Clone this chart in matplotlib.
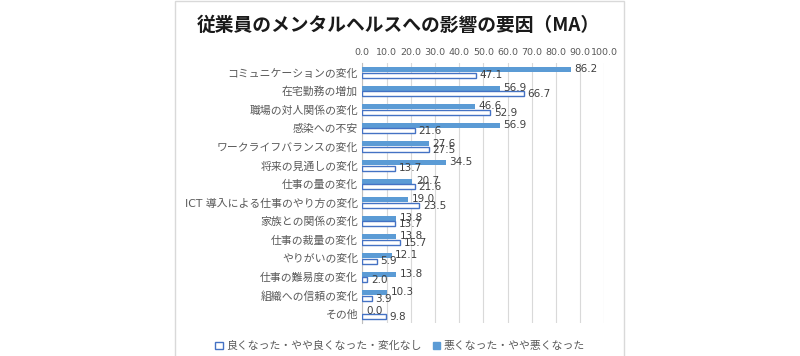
import numpy as np
import matplotlib
matplotlib.use("Agg")
import matplotlib.pyplot as plt
from matplotlib.patches import Patch, Rectangle

plt.rcParams['font.family'] = ['DejaVu Sans', 'Noto Sans CJK JP']

categories = ["コミュニケーションの変化", "在宅勤務の増加", "職場の対人関係の変化", "感染への不安",
              "ワークライフバランスの変化", "将来の見通しの変化", "仕事の量の変化",
              "ICT 導入による仕事のやり方の変化", "家族との関係の変化", "仕事の裁量の変化",
              "やりがいの変化", "仕事の難易度の変化", "組織への信頼の変化", "その他"]
worse = [86.2, 56.9, 46.6, 56.9, 27.6, 34.5, 20.7, 19.0, 13.8, 13.8, 12.1, 13.8, 10.3, 0.0]
better = [47.1, 66.7, 52.9, 21.6, 27.5, 13.7, 21.6, 23.5, 13.7, 15.7, 5.9, 2.0, 3.9, 9.8]
xticks = np.arange(0, 101, 10)

label_better = "良くなった・やや良くなった・変化なし"
label_worse = "悪くなった・やや悪くなった"

fill_col = "#5B9BD5"
edge_col = "#4472C4"
text_col = "#595959"

fig = plt.figure(figsize=(8, 3.56), dpi=100)
# chart frame
fig.patches.append(Rectangle((175 / 800, -0.05), (624 - 175) / 800, 1.05 - 1 / 356,
                             transform=fig.transFigure, fill=False,
                             edgecolor="#D9D9D9", linewidth=1))

ax = fig.add_axes([362.3 / 800, 1 - 323.3 / 356, 242 / 800, (323.3 - 63) / 356])
y = np.arange(len(categories))
h = 0.27
ax.barh(y - 0.15, worse, height=h, color=fill_col, zorder=3)
ax.barh(y + 0.15, better, height=h, color="white", edgecolor=edge_col, linewidth=1, zorder=3)

for i in range(len(categories)):
    ax.text(worse[i] + 1.5, y[i] - 0.17, f"{worse[i]:.1f}", va="center", ha="left",
            fontsize=7.5, color="#404040", zorder=4)
    ax.text(better[i] + 1.5, y[i] + 0.17, f"{better[i]:.1f}", va="center", ha="left",
            fontsize=7.5, color="#404040", zorder=4)

ax.set_xlim(0, 100)
ax.set_ylim(len(categories) - 0.5, -0.5)
ax.set_xticks(xticks)
ax.set_xticklabels([f"{v:.1f}" for v in xticks], fontsize=6.8, color=text_col)
ax.xaxis.tick_top()
ax.tick_params(axis="x", length=0, pad=4)
ax.set_yticks(y)
ax.set_yticklabels(categories, fontsize=7.8, color=text_col)
ax.tick_params(axis="y", length=0, pad=3)
ax.grid(axis="x", color="#D9D9D9", linewidth=0.8, zorder=0)
for s in ["top", "right", "bottom"]:
    ax.spines[s].set_visible(False)
ax.spines["left"].set_color("#BFBFBF")
ax.spines["left"].set_zorder(2)

fig.text(0.4975, 1 - 25 / 356, "従業員のメンタルヘルスへの影響の要因（MA）", ha="center", va="center",
         fontsize=13.5, fontweight="bold", color="#1a1a1a",
         family=['Noto Sans CJK JP', 'DejaVu Sans'])

handles = [Patch(facecolor="white", edgecolor=edge_col, linewidth=1, label=label_better),
           Patch(facecolor=fill_col, edgecolor=fill_col, label=label_worse)]
leg = fig.legend(handles=handles, loc="center", bbox_to_anchor=(0.5, 1 - 346 / 356), ncol=2,
                 frameon=False, fontsize=7.8, handlelength=0.7, handleheight=0.7,
                 handletextpad=0.3, columnspacing=1.0)
for t in leg.get_texts():
    t.set_color(text_col)

fig.savefig("out.png", dpi=100)
